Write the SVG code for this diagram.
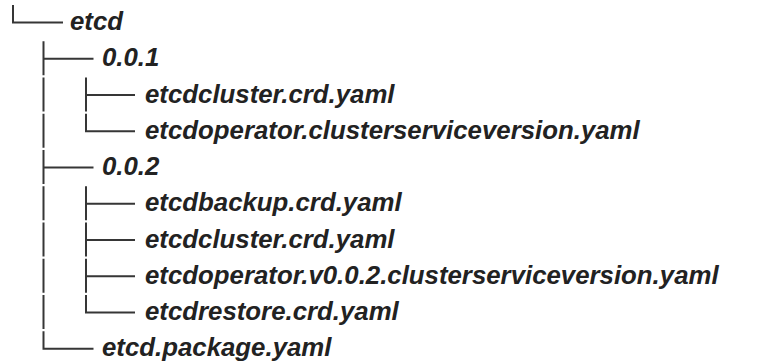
<svg xmlns="http://www.w3.org/2000/svg" width="775" height="364" viewBox="0 0 775 364">
<style>
.t{font-family:"Liberation Sans",Arial,sans-serif;font-weight:bold;font-style:italic;font-size:25.8px;fill:#222}
.c{stroke:#363636;stroke-width:2;fill:none}
</style>
<rect width="775" height="364" fill="#fff"/>
<g id="connectors" class="c">
<path d="M13 5V22.5H63"/>
<path d="M43.5 41.25V75.25M43.5 58.75H93.5"/>
<path d="M43.5 77.5V111.5M86 77.5V111.5M86 95H135"/>
<path d="M43.5 113.75V147.75M86 113.75V131.25H135"/>
<path d="M43.5 150V184M43.5 167.5H93.5"/>
<path d="M43.5 186.25V220.25M86 186.25V220.25M86 203.75H135"/>
<path d="M43.5 222.5V256.5M86 222.5V256.5M86 240H135"/>
<path d="M43.5 258.75V292.75M86 258.75V292.75M86 276.25H135"/>
<path d="M43.5 295V329M86 295V312.5H135"/>
<path d="M43.5 331.25V348.75H93.5"/>
</g>
<g id="n0"><text class="t" x="70" y="30">etcd</text></g>
<g id="n1"><text class="t" x="102" y="66.25">0.0.1</text></g>
<g id="n2"><text class="t" x="145" y="102.5">etcdcluster.crd.yaml</text></g>
<g id="n3"><text class="t" x="145" y="138.75">etcdoperator.clusterserviceversion.yaml</text></g>
<g id="n4"><text class="t" x="102" y="175">0.0.2</text></g>
<g id="n5"><text class="t" x="145" y="211.25">etcdbackup.crd.yaml</text></g>
<g id="n6"><text class="t" x="145" y="247.5">etcdcluster.crd.yaml</text></g>
<g id="n7"><text class="t" x="145" y="283.75">etcdoperator.v0.0.2.clusterserviceversion.yaml</text></g>
<g id="n8"><text class="t" x="145" y="320">etcdrestore.crd.yaml</text></g>
<g id="n9"><text class="t" x="102" y="356.25">etcd.package.yaml</text></g>
</svg>
